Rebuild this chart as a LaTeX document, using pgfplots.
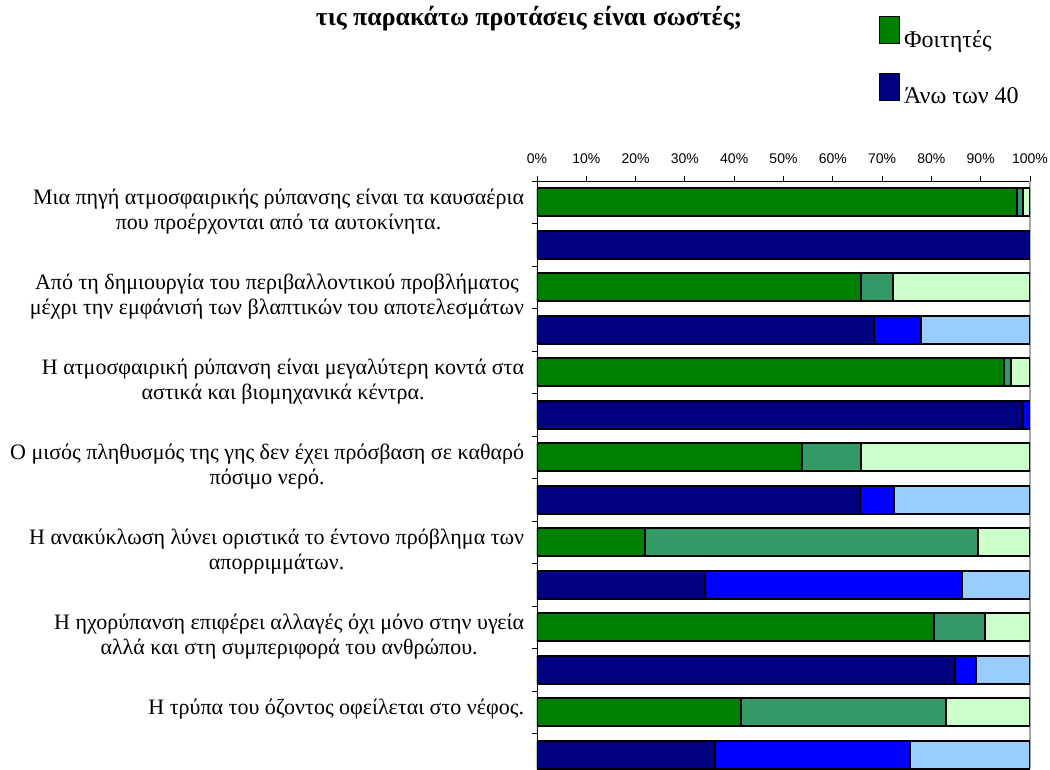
\documentclass[border=0pt]{standalone}
\usepackage{pgfplots}
\pgfplotsset{compat=1.18}
\usepackage{fontspec}
\setmainfont{Liberation Serif}
\newfontfamily\sansf{Liberation Sans}
\definecolor{ga}{HTML}{008000}
\definecolor{gb}{HTML}{339966}
\definecolor{gc}{HTML}{CCFFCC}
\definecolor{ba}{HTML}{000080}
\definecolor{bb}{HTML}{0000FF}
\definecolor{bc}{HTML}{99CCFF}
\newcommand\lab{\fontsize{16.5}{18.5}\selectfont}
\newcommand\leg{\fontsize{18}{21}\selectfont}
\begin{document}
\begin{tikzpicture}
\begin{axis}[
  at={(0,0)}, anchor=south west,
  scale only axis, width=369.75pt, height=441pt,
  xbar stacked, bar width=0.66,
  xmin=0, xmax=100, ymin=0.5, ymax=14.335, y dir=reverse,
  axis x line*=top, axis y line*=left,
  axis line style={-, black, line width=0.6pt},
  tick align=outside, major tick length=3.5pt,
  tick style={black, line width=0.6pt},
  xtick={0,10,...,100},
  xticklabels={0\%,10\%,20\%,30\%,40\%,50\%,60\%,70\%,80\%,90\%,100\%},
  xtick pos=upper, xticklabel pos=upper,
  xticklabel style={font=\sansf\fontsize{10.5}{12}\selectfont, inner sep=0pt, yshift=9pt},
  ytick={0.5,1.5,...,13.5}, yticklabels={}, ytick pos=lower,
  extra y ticks={1,3,5,7,9,11,13},
  extra y tick labels={
    {Μια πηγή ατμοσφαιρικής ρύπανσης είναι τα καυσαέρια\\που προέρχονται από τα αυτοκίνητα.},
    {Από τη δημιουργία του περιβαλλοντικού προβλήματος\\μέχρι την εμφάνισή των βλαπτικών του αποτελεσμάτων},
    {Η ατμοσφαιρική ρύπανση είναι μεγαλύτερη κοντά στα\\αστικά και βιομηχανικά κέντρα.},
    {Ο μισός πληθυσμός της γης δεν έχει πρόσβαση σε καθαρό\\πόσιμο νερό.},
    {Η ανακύκλωση λύνει οριστικά το έντονο πρόβλημα των\\απορριμμάτων.},
    {Η ηχορύπανση επιφέρει αλλαγές όχι μόνο στην υγεία\\αλλά και στη συμπεριφορά του ανθρώπου.},
    {Η τρύπα του όζοντος οφείλεται στο νέφος.}},
  extra y tick style={tick style={draw=none},
    yticklabel style={align=center, font=\lab, anchor=north east, inner sep=0pt, xshift=-6pt, yshift=10pt}},
  extra x ticks={100}, extra x tick labels={},
  extra x tick style={grid=major, major grid style={gray!70, line width=0.8pt}, tick style={draw=none}},
  every axis plot/.append style={draw=black, line width=1.5pt},
  legend image code/.code={\draw[#1, line width=0.9pt] (0pt,-3pt) rectangle (15pt,17.25pt);},
  legend style={at={(axis description cs:0.6937,1.2806)}, anchor=north west, draw=none, fill=none,
    inner sep=0pt, outer sep=0pt, row sep=18pt, column sep=3pt, font=\leg,
    nodes={inner sep=0pt}},
  legend cell align=left,
  title={\textbf{τις παρακάτω προτάσεις είναι σωστές;}},
  title style={at={(axis description cs:-0.016,1.2515)}, anchor=base, font=\fontsize{19.4}{22}\selectfont, inner sep=0pt},
]
\addlegendimage{fill=ga, draw=black}
\addlegendentry{Φοιτητές}
\addlegendimage{fill=ba, draw=black}
\addlegendentry{Άνω των 40}

\addplot[fill=ga, forget plot] coordinates {(97.3,1) (0,2) (65.7,3) (0,4) (94.7,5) (0,6) (53.8,7) (0,8) (21.9,9) (0,10) (80.5,11) (0,12) (41.3,13) (0,14)};
\addplot[fill=ba, forget plot] coordinates {(0,1) (100,2) (0,3) (68.4,4) (0,5) (98.6,6) (0,7) (65.6,8) (0,9) (34.1,10) (0,11) (84.8,12) (0,13) (36.2,14)};
\addplot[fill=gb, forget plot] coordinates {(1.2,1) (0,2) (6.6,3) (0,4) (1.4,5) (0,6) (11.9,7) (0,8) (67.6,9) (0,10) (10.3,11) (0,12) (41.7,13) (0,14)};
\addplot[fill=bb, forget plot] coordinates {(0,1) (0,2) (0,3) (9.5,4) (0,5) (1.4,6) (0,7) (6.9,8) (0,9) (52.2,10) (0,11) (4.2,12) (0,13) (39.4,14)};
\addplot[fill=gc, forget plot] coordinates {(1.5,1) (0,2) (27.7,3) (0,4) (3.9,5) (0,6) (34.3,7) (0,8) (10.5,9) (0,10) (9.2,11) (0,12) (17.0,13) (0,14)};
\addplot[fill=bc, forget plot] coordinates {(0,1) (0,2) (0,3) (22.1,4) (0,5) (0,6) (0,7) (27.5,8) (0,9) (13.7,10) (0,11) (11.0,12) (0,13) (24.4,14)};
\end{axis}
\pgfresetboundingbox
\path[use as bounding box] (-402.75pt,0pt) rectangle (384.75pt,576.75pt);
\end{tikzpicture}
\end{document}
